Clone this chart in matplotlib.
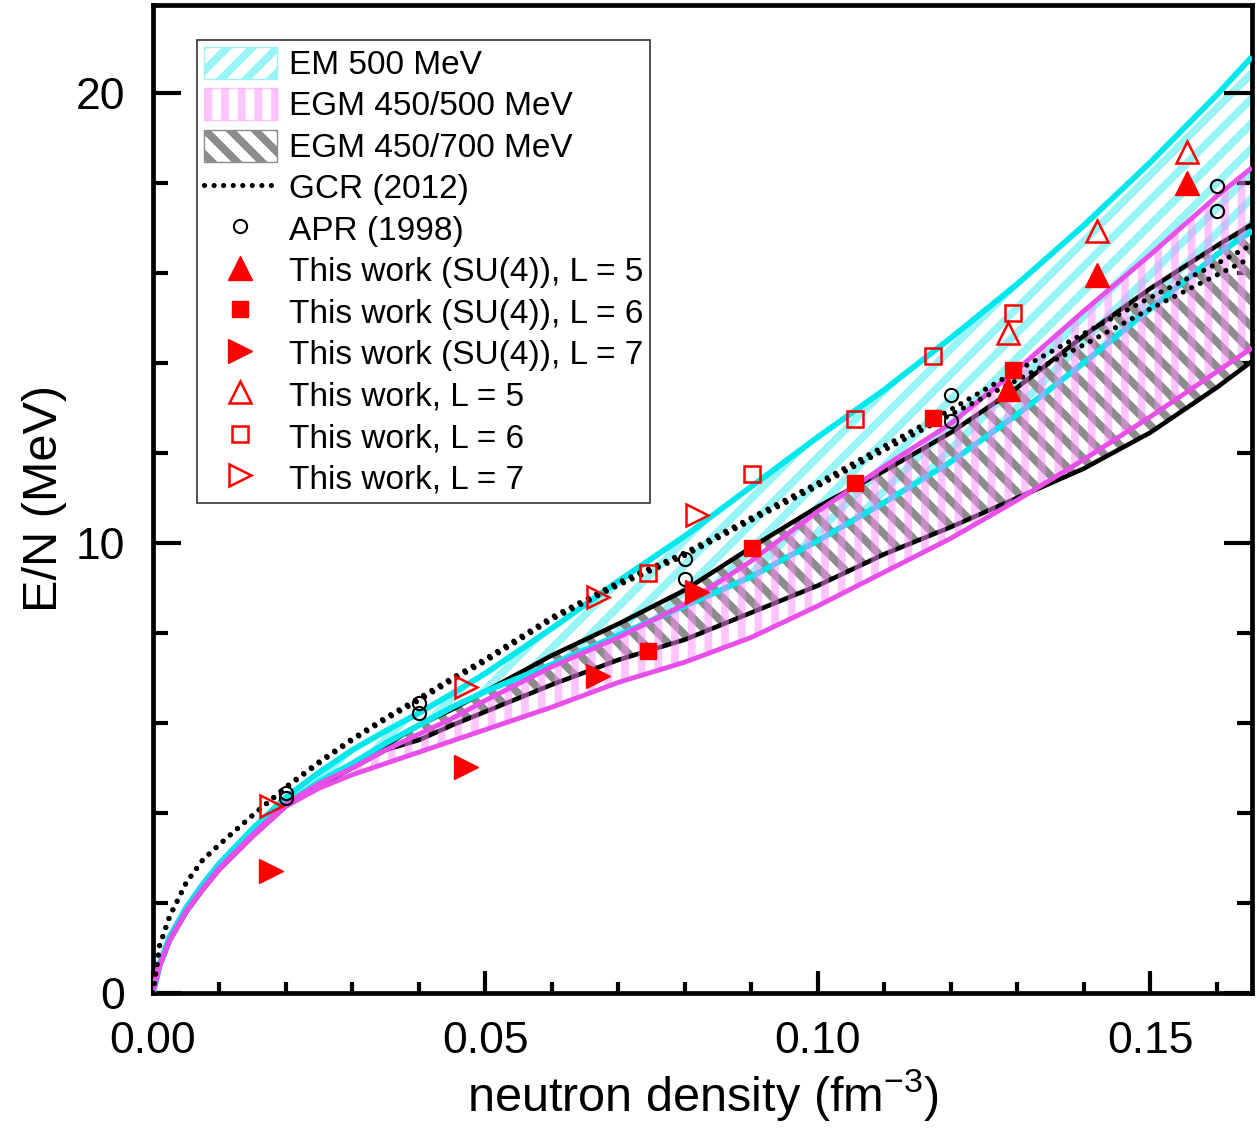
import matplotlib
matplotlib.use("Agg")
import matplotlib.pyplot as plt
from matplotlib.backend_bases import GraphicsContextBase
from matplotlib.path import Path
from matplotlib.patches import Patch
from matplotlib.lines import Line2D
from matplotlib.ticker import MultipleLocator, FormatStrFormatter

########## Fonts and style
plt.rcParams["font.family"] = ["Liberation Sans", "DejaVu Sans"]
plt.rcParams["hatch.linewidth"] = 5.6
plt.rcParams["mathtext.default"] = "regular"


# diagonal hatches a bit denser than the default, vertical ones left as is
def hatch_path(self, density=6.0):
    hatch = self.get_hatch()
    if hatch is None:
        return None
    if "|" not in hatch:
        density = 8.5
    return Path.hatch(hatch, density)


GraphicsContextBase.get_hatch_path = hatch_path

########## Band edges (neutron density in fm^-3, E/N in MeV)
rho_grid = [0, 0.001, 0.0025, 0.005, 0.0075, 0.01, 0.015, 0.02, 0.025, 0.03,
            0.035, 0.04, 0.045, 0.05, 0.06, 0.07, 0.08, 0.09, 0.10, 0.11,
            0.12, 0.13, 0.14, 0.15, 0.16, 0.165]

em_upper = [0, 0.65, 1.25, 1.9, 2.42, 2.88, 3.65, 4.35, 4.9, 5.4,
            5.82, 6.22, 6.65, 7.1, 8.1, 9.15, 10.15, 11.25, 12.35, 13.4,
            14.55, 15.75, 17.05, 18.45, 19.95, 20.75]
em_lower = [0, 0.6, 1.18, 1.82, 2.32, 2.78, 3.52, 4.2, 4.7, 5.1,
            5.55, 5.95, 6.35, 6.7, 7.3, 7.95, 8.6, 9.25, 10.05, 10.9,
            11.8, 12.85, 14.0, 15.2, 16.4, 16.9]

egm500_upper = [0, 0.6, 1.18, 1.82, 2.32, 2.78, 3.52, 4.2, 4.65, 5.0,
                5.4, 5.75, 6.1, 6.5, 7.25, 7.9, 8.64, 9.6, 10.7, 11.7,
                12.65, 13.85, 15.15, 16.4, 17.7, 18.3]
egm500_lower = [0, 0.6, 1.16, 1.8, 2.3, 2.75, 3.48, 4.15, 4.55, 4.85,
                5.1, 5.35, 5.6, 5.85, 6.35, 6.9, 7.35, 7.9, 8.6, 9.35,
                10.1, 10.95, 11.85, 12.8, 13.8, 14.3]

egm700_upper = [0, 0.6, 1.17, 1.8, 2.3, 2.76, 3.5, 4.18, 4.6, 5.05,
                5.5, 5.95, 6.3, 6.7, 7.5, 8.2, 8.95, 9.9, 10.8, 11.6,
                12.45, 13.45, 14.6, 15.65, 16.6, 17.05]
egm700_lower = [0, 0.6, 1.16, 1.8, 2.3, 2.75, 3.48, 4.15, 4.6, 5.0,
                5.4, 5.62, 5.95, 6.25, 6.85, 7.4, 7.85, 8.45, 9.05, 9.75,
                10.35, 11.0, 11.65, 12.45, 13.45, 14.0]

gcr_upper = [0, 1.05, 1.7, 2.45, 2.96, 3.3, 3.95, 4.58, 5.14, 5.65,
             6.12, 6.55, 7.0, 7.42, 8.35, 9.12, 9.78, 10.56, 11.33, 12.15,
             12.96, 13.83, 14.65, 15.45, 16.2, 16.6]
gcr_lower = [0, 1.05, 1.7, 2.45, 2.96, 3.3, 3.95, 4.56, 5.11, 5.62,
             6.08, 6.5, 6.95, 7.37, 8.3, 9.06, 9.72, 10.5, 11.26, 12.06,
             12.85, 13.62, 14.4, 15.2, 15.95, 16.32]

########## Lattice points and APR
su4_l5_rho = [0.1286, 0.142, 0.1555]
su4_l5_e = [13.42, 15.95, 18.0]
su4_l6_rho = [0.0744, 0.0901, 0.1056, 0.1173, 0.1293]
su4_l6_e = [7.6, 9.89, 11.33, 12.78, 13.85]
su4_l7_rho = [0.0177, 0.0471, 0.0669, 0.0818]
su4_l7_e = [2.7, 5.02, 7.04, 8.9]

l5_rho = [0.1286, 0.142, 0.1555]
l5_e = [14.67, 16.92, 18.68]
l6_rho = [0.0744, 0.0901, 0.1056, 0.1173, 0.1293]
l6_e = [9.33, 11.53, 12.76, 14.15, 15.1]
l7_rho = [0.0177, 0.0471, 0.0669, 0.0818]
l7_e = [4.16, 6.79, 8.8, 10.61]

apr_rho = [0.02, 0.02, 0.04, 0.04, 0.08, 0.08, 0.12, 0.12, 0.16, 0.16]
apr_e = [4.44, 4.33, 6.44, 6.22, 9.64, 9.2, 13.29, 12.71, 17.93, 17.38]

########## Colours
CYAN = "#00e8ec"
CYAN_HATCH = (0.6, 0.96, 0.96, 1.0)
MAGENTA = "#e84ee8"
PINK_HATCH = (1.0, 0.55, 1.0, 0.5)
GREY_HATCH = (0.55, 0.55, 0.55, 1.0)
RED = "#ff0000"
DOTS = dict(color="black", lw=3.7, dashes=(0.01, 1.85), dash_capstyle="round")

fig = plt.figure(figsize=(12.57, 11.28), dpi=100)
ax = fig.add_axes([0.1217, 0.1197, 0.8743, 0.8759])

########## Bands
ax.fill_between(rho_grid, em_lower, em_upper, facecolor="none",
                edgecolor=CYAN_HATCH, hatch="/", linewidth=0, zorder=1)
ax.fill_between(rho_grid, egm700_lower, egm700_upper, facecolor="none",
                edgecolor=GREY_HATCH, hatch="\\", linewidth=0, zorder=2)

ax.plot(rho_grid, egm700_upper, color="black", lw=3.3, zorder=3)
ax.plot(rho_grid, egm700_lower, color="black", lw=3.3, zorder=3)
ax.plot(rho_grid, em_upper, color=CYAN, lw=4.2, zorder=3)
ax.plot(rho_grid, em_lower, color=CYAN, lw=4.2, zorder=3)

ax.fill_between(rho_grid, egm500_lower, egm500_upper, facecolor="none",
                edgecolor=PINK_HATCH, hatch="|", linewidth=0, zorder=4)
ax.plot(rho_grid, egm500_upper, color=MAGENTA, lw=3.5, zorder=5)
ax.plot(rho_grid, egm500_lower, color=MAGENTA, lw=3.5, zorder=5)

########## GCR (2012)
for gcr in (gcr_upper, gcr_lower):
    ax.plot(rho_grid, gcr, zorder=6, **DOTS)

########## Points
ax.plot(apr_rho, apr_e, "o", ms=9.5, mfc="none", mec="black", mew=1.5, zorder=7)

ax.plot(su4_l5_rho, su4_l5_e, "^", ms=17, color=RED, mec=RED, zorder=8)
ax.plot(su4_l6_rho, su4_l6_e, "s", ms=12, color=RED, mec=RED, zorder=8)
ax.plot(su4_l7_rho, su4_l7_e, ">", ms=17, color=RED, mec=RED, zorder=8)
ax.plot(l5_rho, l5_e, "^", ms=16, mfc="none", mec=RED, mew=1.8, zorder=8)
ax.plot(l6_rho, l6_e, "s", ms=12, mfc="none", mec=RED, mew=1.8, zorder=8)
ax.plot(l7_rho, l7_e, ">", ms=16, mfc="none", mec=RED, mew=1.8, zorder=8)

########## Axes
ax.set_xlim(0, 0.1653)
ax.set_ylim(0, 21.95)
ax.xaxis.set_major_locator(MultipleLocator(0.05))
ax.xaxis.set_minor_locator(MultipleLocator(0.01))
ax.xaxis.set_major_formatter(FormatStrFormatter("%.2f"))
ax.yaxis.set_major_locator(MultipleLocator(10))
ax.yaxis.set_minor_locator(MultipleLocator(2))

ax.tick_params(axis="both", which="both", direction="in", width=3,
               labelsize=32, right=True)
ax.tick_params(axis="y", which="major", length=20, pad=20)
ax.tick_params(axis="y", which="minor", length=11)
ax.tick_params(axis="x", which="major", length=16, pad=20)
ax.tick_params(axis="x", which="minor", length=8)
for side in ax.spines.values():
    side.set_linewidth(3.4)

ax.set_xlabel("neutron density (fm$^{-3}$)", fontsize=35, labelpad=4)
ax.set_ylabel("E/N (MeV)", fontsize=35, labelpad=6)

########## Legend
handles = [
    Patch(facecolor="none", edgecolor=CYAN_HATCH, hatch="/", lw=1),
    Patch(facecolor="none", edgecolor=PINK_HATCH, hatch="|", lw=1),
    Patch(facecolor="none", edgecolor=GREY_HATCH, hatch="\\", lw=1),
    Line2D([], [], **DOTS),
    Line2D([], [], ls="none", marker="o", ms=9.5, mfc="none", mec="black", mew=1.5),
    Line2D([], [], ls="none", marker="^", ms=17, color=RED),
    Line2D([], [], ls="none", marker="s", ms=12, color=RED),
    Line2D([], [], ls="none", marker=">", ms=17, color=RED),
    Line2D([], [], ls="none", marker="^", ms=16, mfc="none", mec=RED, mew=1.8),
    Line2D([], [], ls="none", marker="s", ms=12, mfc="none", mec=RED, mew=1.8),
    Line2D([], [], ls="none", marker=">", ms=16, mfc="none", mec=RED, mew=1.8),
]
labels = ["EM 500 MeV", "EGM 450/500 MeV", "EGM 450/700 MeV", "GCR (2012)",
          "APR (1998)", "This work (SU(4)), L = 5", "This work (SU(4)), L = 6",
          "This work (SU(4)), L = 7", "This work, L = 5", "This work, L = 6",
          "This work, L = 7"]
leg = ax.legend(handles, labels, loc="upper left", bbox_to_anchor=(0.040, 0.9646),
                borderaxespad=0, fontsize=24, frameon=True, fancybox=False,
                edgecolor="black", handlelength=2.2, handleheight=1.1,
                handletextpad=0.36, labelspacing=0.215, borderpad=0.2)
leg.get_frame().set_linewidth(1.2)
leg.set_zorder(10)

fig.savefig("out.png", dpi=100)
